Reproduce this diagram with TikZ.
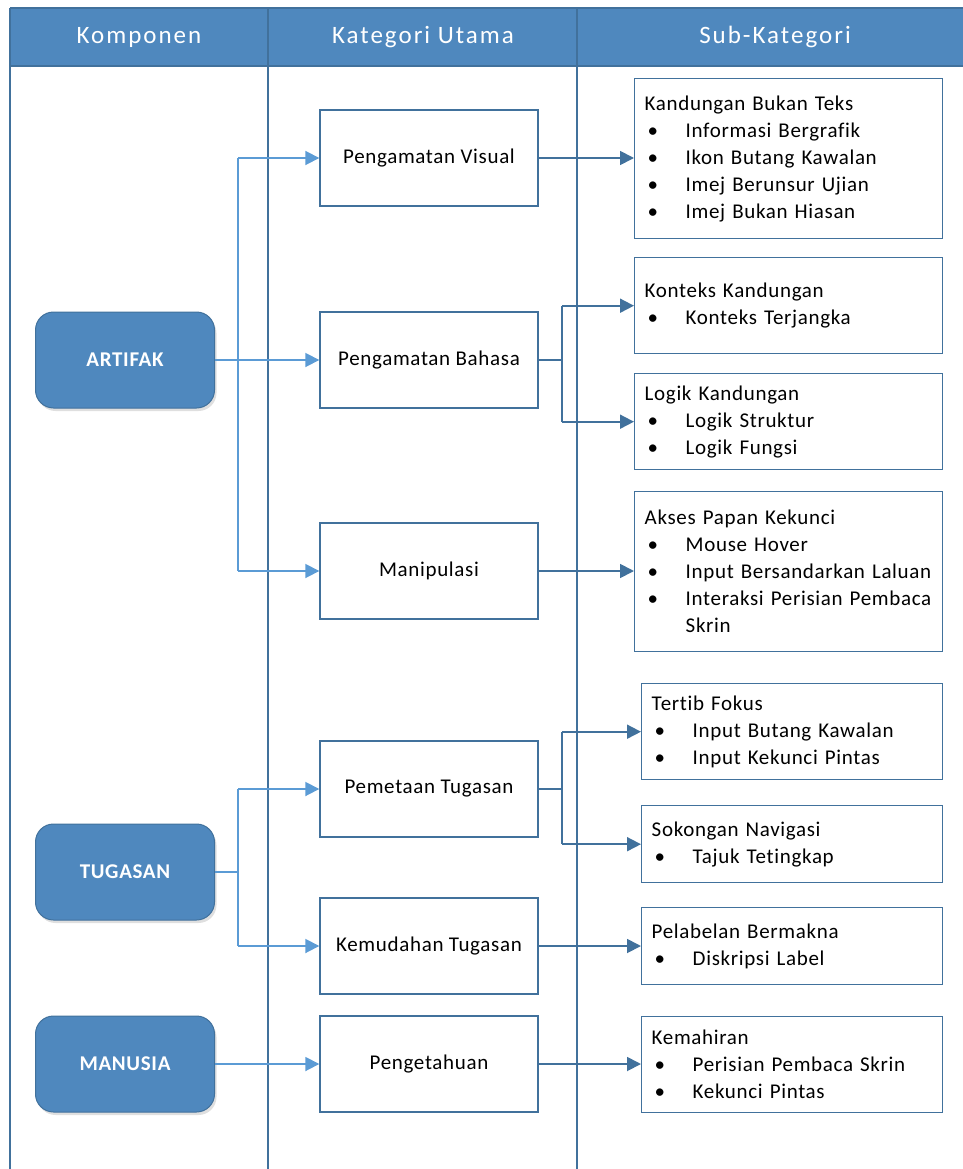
\documentclass[tikz,border=0pt]{standalone}
\usepackage{fontspec}
\setmainfont{Carlito}[LetterSpace=3.2, Ligatures={NoCommon}]
\newfontfamily\hdrfont{Carlito}[LetterSpace=8, Ligatures={NoCommon}]
\usetikzlibrary{arrows.meta,shadows,calc}
\definecolor{hdr}{RGB}{79,136,190}
\definecolor{edge}{RGB}{65,113,156}
\definecolor{lite}{RGB}{91,155,213}
\newcommand\bul{\hspace*{3pt}\makebox[38pt][l]{\textbullet}}
\newcommand\cont{\hspace*{41pt}}
\begin{document}
\begin{tikzpicture}[x=1pt,y=-1pt,
  comp/.style={rectangle, rounded corners=18pt, fill=hdr, draw=edge, line width=1pt,
    minimum width=179pt, minimum height=96pt, text=white,
    font=\fontsize{21}{24}\selectfont\bfseries,
    drop shadow={opacity=0.25, shadow xshift=2pt, shadow yshift=-3pt}},
  cat/.style={rectangle, draw=edge, line width=1.4pt, fill=white,
    minimum width=218pt, minimum height=96pt, font=\fontsize{21}{24}\selectfont},
  sub/.style={rectangle, draw=edge, line width=1.4pt, fill=white, align=left,
    anchor=north west, inner xsep=10pt, inner ysep=0pt, font=\fontsize{21}{27}\selectfont},
  hdrtext/.style={text=white, font=\hdrfont\fontsize{25}{30}\selectfont},
  colline/.style={draw=edge, line width=1.6pt},
  litearrow/.style={draw=lite, line width=1.8pt, -{Triangle[length=14pt,width=14pt]}},
  liteline/.style={draw=lite, line width=1.8pt},
  darkarrow/.style={draw=edge, line width=1.8pt, -{Triangle[length=14pt,width=14pt]}},
  darkline/.style={draw=edge, line width=1.8pt}]
\useasboundingbox (0,0) rectangle (962,1169);
% header and columns
\fill[hdr] (10,8) rectangle (964,66);
\draw[colline] (10,8) -- (964,8);
\draw[colline] (10,66) -- (964,66);
\draw[colline] (10,8) -- (10,1169);
\draw[colline] (268,8) -- (268,1169);
\draw[colline] (577,8) -- (577,1169);
\node[hdrtext] (h1) at (139,37) {Komponen};
\node[hdrtext] (h2) at (423,37) {Kategori Utama};
\node[hdrtext] (h3) at (775,37) {Sub-Kategori};
% components
\node[comp] (artifak) at (125,360) {ARTIFAK};
\node[comp] (tugasan) at (125,872) {TUGASAN};
\node[comp] (manusia) at (125,1064) {MANUSIA};
% categories
\node[cat] (pvisual) at (429,158) {Pengamatan Visual};
\node[cat] (pbahasa) at (429,360) {Pengamatan Bahasa};
\node[cat] (manip) at (429,571) {Manipulasi};
\node[cat] (ptugas) at (429,789) {Pemetaan Tugasan};
\node[cat] (ktugas) at (429,946) {Kemudahan Tugasan};
\node[cat] (pengetahuan) at (429,1064) {Pengetahuan};
% sub-categories
\node[sub, text width=288pt, minimum height=160pt] (kbt) at (634,78)
  {Kandungan Bukan Teks\\ \bul Informasi Bergrafik\\ \bul Ikon Butang Kawalan\\ \bul Imej Berunsur Ujian\\ \bul Imej Bukan Hiasan};
\node[sub, text width=288pt, minimum height=96pt] (konteks) at (634,257)
  {Konteks Kandungan\\ \bul Konteks Terjangka};
\node[sub, text width=288pt, minimum height=96pt] (logik) at (634,373)
  {Logik Kandungan\\ \bul Logik Struktur\\ \bul Logik Fungsi};
\node[sub, text width=288pt, minimum height=160pt] (akses) at (634,491)
  {Akses Papan Kekunci\\ \bul Mouse Hover\\ \bul Input Bersandarkan Laluan\\ \bul Interaksi Perisian Pembaca\\ \cont Skrin};
\node[sub, text width=281pt, minimum height=96pt] (tertib) at (641,683)
  {Tertib Fokus\\ \bul Input Butang Kawalan\\ \bul Input Kekunci Pintas};
\node[sub, text width=281pt, minimum height=77pt] (sokongan) at (641,805)
  {Sokongan Navigasi\\ \bul Tajuk Tetingkap};
\node[sub, text width=281pt, minimum height=77pt] (pelabelan) at (641,907)
  {Pelabelan Bermakna\\ \bul Diskripsi Label};
\node[sub, text width=281pt, minimum height=96pt] (kemahiran) at (641,1016)
  {Kemahiran\\ \bul Perisian Pembaca Skrin\\ \bul Kekunci Pintas};
% light connectors: components -> categories
\coordinate (ja) at (238,360);
\coordinate (jt) at (238,872);
\draw[litearrow] (artifak.east) -- (pbahasa.west);
\draw[liteline] (ja |- pvisual.west) -- (ja |- manip.west);
\draw[litearrow] (ja |- pvisual.west) -- (pvisual.west);
\draw[litearrow] (ja |- manip.west) -- (manip.west);
\draw[liteline] (tugasan.east) -- (jt);
\draw[liteline] (jt |- ptugas.west) -- (jt |- ktugas.west);
\draw[litearrow] (jt |- ptugas.west) -- (ptugas.west);
\draw[litearrow] (jt |- ktugas.west) -- (ktugas.west);
\draw[litearrow] (manusia.east) -- (pengetahuan.west);
% dark connectors: categories -> sub-categories
\coordinate (jb) at (562,360);
\coordinate (jp) at (562,789);
\draw[darkarrow] (pvisual.east) -- (kbt.west |- pvisual.east);
\draw[darkline] (pbahasa.east) -- (jb);
\draw[darkline] (jb |- konteks.west) -- (jb |- logik.west);
\draw[darkarrow] (jb |- konteks.west) -- (konteks.west);
\draw[darkarrow] (jb |- logik.west) -- (logik.west);
\draw[darkarrow] (manip.east) -- (akses.west |- manip.east);
\draw[darkline] (ptugas.east) -- (jp);
\draw[darkline] (jp |- tertib.west) -- (jp |- sokongan.west);
\draw[darkarrow] (jp |- tertib.west) -- (tertib.west);
\draw[darkarrow] (jp |- sokongan.west) -- (sokongan.west);
\draw[darkarrow] (ktugas.east) -- (pelabelan.west |- ktugas.east);
\draw[darkarrow] (pengetahuan.east) -- (kemahiran.west |- pengetahuan.east);
\end{tikzpicture}
\end{document}
